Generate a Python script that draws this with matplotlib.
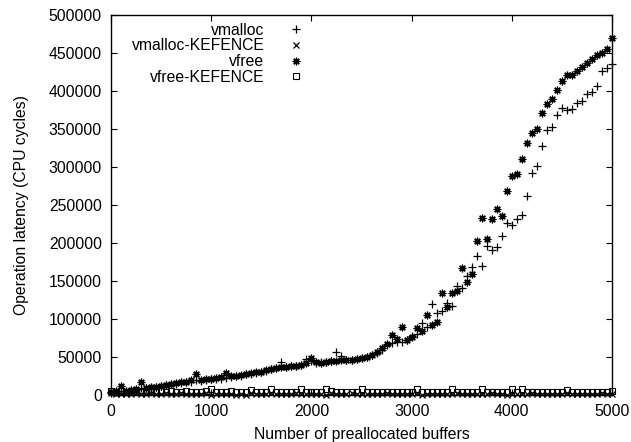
import numpy as np
import matplotlib
matplotlib.use("Agg")
import matplotlib.pyplot as plt

plt.rcParams["font.family"] = ["Liberation Sans", "DejaVu Sans"]
plt.rcParams["font.size"] = 11.3

# buffers sampled every 50
buffers = list(range(0, 5001, 50))

vmalloc = [
    3000, 4000, 6000, 5500, 7000, 7500, 9000, 9500, 10000, 11000,
    12000, 13000, 14500, 15000, 16000, 17000, 18000, 19500, 19000, 20000,
    21000, 22000, 22000, 23000, 24000, 25000, 26000, 27500, 28500, 29500,
    30000, 32000, 34000, 35500, 44000, 37000, 38000, 38500, 39500, 48000,
    44500, 43000, 43500, 44000, 45000, 57000, 51500, 46500, 46500, 47500,
    48500, 50500, 53000, 56000, 60000, 66500, 68500, 69500, 70000, 72500,
    78000, 80500, 95500, 90000, 120000, 108500, 111000, 122000, 117500, 143500,
    141000, 157000, 168500, 183500, 170000, 196500, 191000, 195500, 209500, 227000,
    224000, 231500, 237000, 262000, 292000, 301500, 328000, 349000, 353500, 369000,
    377500, 376000, 376500, 385000, 387500, 396000, 398500, 407000, 427000, 430500,
    436000,
]

vfree = [
    4000, 5000, 12000, 6000, 7000, 8000, 17500, 10000, 10500, 11500,
    12500, 14000, 15000, 16000, 17000, 18000, 19500, 27500, 20500, 21000,
    22000, 22500, 23500, 29000, 25000, 26000, 26500, 28000, 29000, 30000,
    31000, 33500, 35000, 36000, 37000, 37500, 38500, 39000, 40000, 42000,
    48500, 43500, 43000, 44000, 45000, 45500, 47000, 46000, 47000, 47500,
    48500, 50500, 52500, 57000, 62000, 67500, 79000, 73500, 90000, 73000,
    77000, 88000, 84500, 105500, 92500, 97000, 134000, 116500, 135000, 137500,
    167000, 149500, 159500, 203500, 233000, 205500, 232000, 245000, 236000, 269000,
    289000, 291000, 311000, 331500, 345000, 350000, 372000, 383000, 390000, 401500,
    414000, 421000, 421500, 427000, 432000, 437500, 442000, 447500, 451000, 455000,
    470500,
]

vmalloc_kefence = [
    2500, 2000, 1500, 2200, 1800, 2400, 2100, 1900, 2600, 2300,
    2000, 2400, 1800, 2200, 2500, 1900, 2300, 2100, 1700, 2400,
    600, 2200, 2000, 1800, 2300, 800, 2100, 600, 2400, 1900,
    2200, 2000, 2500, 1800, 2300, 2100, 1900, 2400, 2200, 2000,
    1800, 2300, 2100, 700, 2400, 2000, 2200, 1900, 2500, 2100,
    1800, 2300, 2000, 2200, 1900, 2400, 2100, 1800, 2300, 2000,
    2200, 2500, 700, 2100, 1900, 2300, 2000, 2200, 1800, 2400,
    2100, 1900, 2300, 2000, 2200, 1800, 2400, 2100, 1900, 800,
    2300, 2000, 2200, 1800, 2500, 2100, 1900, 2300, 2000, 2200,
    1800, 2400, 2100, 1900, 2300, 2000, 2200, 1800, 2400, 2100,
    2300,
]

vfree_kefence = [
    5000, 4500, 5500, 4800, 4200, 5000, 4600, 5200, 4400, 4800,
    5000, 4500, 5200, 4700, 4300, 5500, 4600, 4900, 4400, 5000,
    8500, 4600, 4300, 4800, 5000, 4400, 4700, 4500, 7000, 4600,
    4800, 4300, 8500, 4700, 4500, 4900, 4400, 4800, 8500, 4600,
    4500, 4800, 4300, 8500, 5000, 4600, 4400, 4800, 4500, 4700,
    8000, 4600, 4400, 4900, 4500, 4800, 4300, 4700, 4500, 4900,
    4400, 8000, 4600, 4800, 4500, 4700, 4400, 4900, 8000, 4600,
    4500, 4800, 4400, 4700, 8500, 4600, 4500, 4900, 4400, 4800,
    8000, 4600, 8000, 4500, 4900, 4400, 4700, 4600, 4800, 4500,
    4400, 7500, 4600, 4800, 4500, 4700, 4400, 4900, 4600, 4500,
    5000,
]

fig = plt.figure(figsize=(6.31, 4.42), dpi=100)
ax = fig.add_axes([0.1759, 0.1057, 0.7941, 0.8597])

star = (8, 2, 0)  # gnuplot-style asterisk (+ and x)
ax.plot(buffers, vmalloc, ls="none", marker="+", ms=5.5, mew=0.9, color="black",
        label="vmalloc", clip_on=False)
ax.plot(buffers, vmalloc_kefence, ls="none", marker="x", ms=3.8, mew=0.9, color="black",
        label="vmalloc-KEFENCE", clip_on=False)
ax.plot(buffers, vfree, ls="none", marker=star, ms=5.5, mew=0.9, color="black",
        label="vfree", clip_on=False)
ax.plot(buffers, vfree_kefence, ls="none", marker="s", ms=4.5, mew=0.8, mfc="none",
        color="black", label="vfree-KEFENCE", clip_on=False)

ax.set_xlim(0, 5000)
ax.set_ylim(0, 500000)
ax.set_xticks(range(0, 5001, 1000))
ax.set_yticks(range(0, 500001, 50000))
ax.tick_params(direction="in", length=4, width=0.8, top=True, right=True)
ax.tick_params(axis="y", pad=6.5)
ax.tick_params(axis="x", pad=6)
for s in ax.spines.values():
    s.set_linewidth(1.0)

ax.set_xlabel("Number of preallocated buffers", labelpad=6)
ax.set_ylabel("Operation latency (CPU cycles)", labelpad=14)

ax.legend(loc="upper right", bbox_to_anchor=(0.4, 0.981), frameon=False,
          markerfirst=False, borderpad=0, borderaxespad=0, handletextpad=1.0,
          labelspacing=0.05, handlelength=2.0)

fig.savefig("out.png", dpi=100)
